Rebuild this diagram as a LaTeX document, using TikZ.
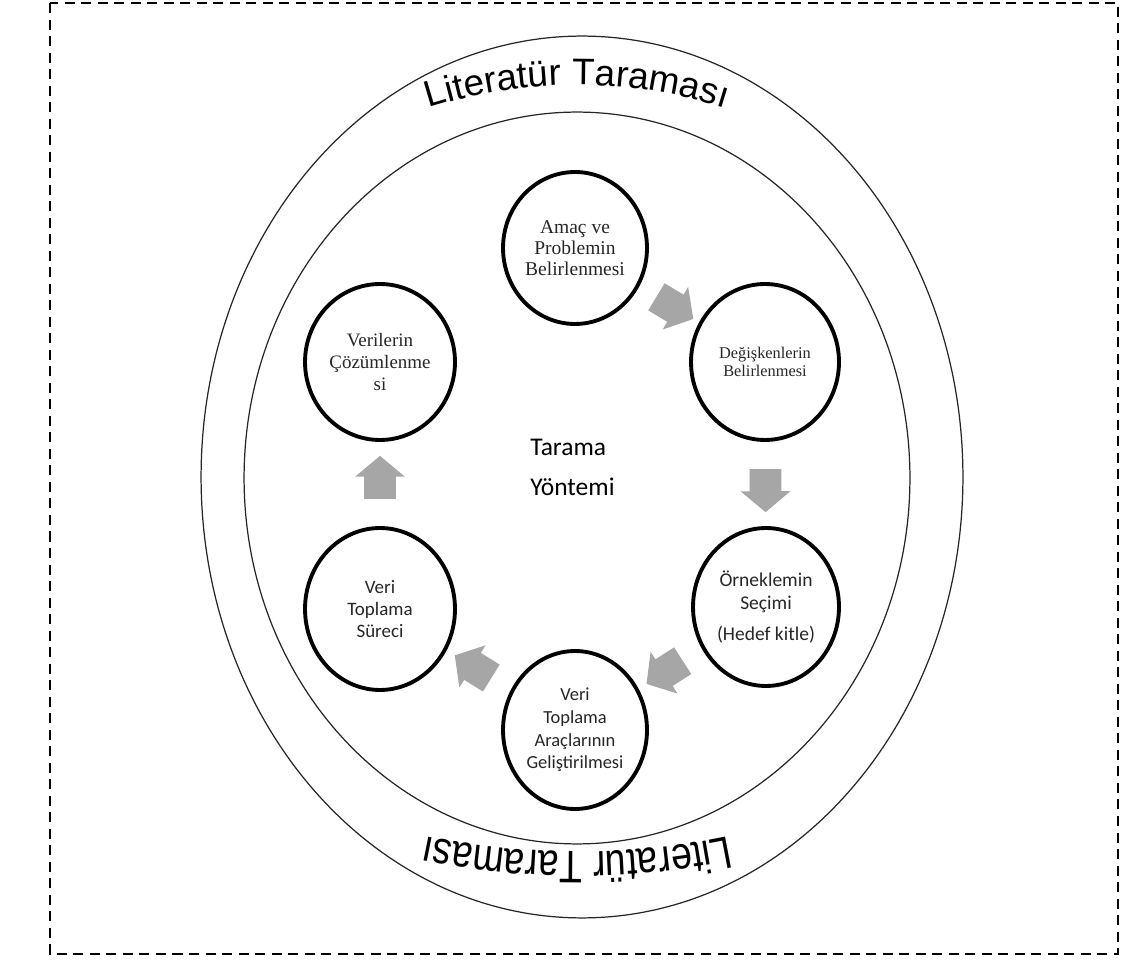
\documentclass[tikz,border=0pt]{standalone}
\usepackage{fontspec}
\setmainfont{Liberation Serif}
\newfontfamily\calfont{Carlito}
\newfontfamily\arcfont{Liberation Sans}
\newfontfamily\arcfontb[FakeStretch=0.82]{Liberation Sans}
\usetikzlibrary{shapes.geometric,shapes.arrows,decorations.text}
\definecolor{arrowgray}{HTML}{A6A6A6}
\definecolor{textgray}{HTML}{262626}
\begin{document}
\begin{tikzpicture}[x=0.02cm,y=0.02cm,
  stage/.style={draw=black, line width=2.2pt, ellipse, inner sep=0pt, align=center, text=textgray},
  ring/.style={draw=black!85, line width=0.7pt, ellipse, inner sep=0pt},
  flowarrow/.style={single arrow, fill=arrowgray, draw=none, minimum height=0.86cm,
    minimum width=0.98cm, single arrow head extend=0.18cm, single arrow tip angle=100,
    inner xsep=0pt, inner ysep=0.31cm, sloped, allow upside down},
  frame/.style={draw=black, line width=0.9pt, dash pattern=on 5.7pt off 3.7pt}]
\useasboundingbox (0,0) rectangle (1121,960);
\draw[frame] (50,957) rectangle (1118,6);

\node[ring, minimum width=15.24cm, minimum height=17.64cm] (outer) at (582,483) {};
\node[ring, minimum width=13.32cm, minimum height=14.64cm] (inner) at (577,482) {};

\path[decorate, decoration={text along path, text align=center,
  text={|\arcfont\fontsize{21}{21}\selectfont|Literatür Taraması}}]
  (577,385) ++(125:9.8cm) arc[start angle=125, end angle=55, radius=9.8cm];
\path[decorate, decoration={text along path, text align=center,
  text={|\arcfontb\fontsize{26}{26}\selectfont|Literatür Taraması}}]
  (577,858) ++(-75:15cm) arc[start angle=-75, end angle=-105, radius=15cm];

\node[stage, minimum width=2.88cm, minimum height=3.04cm, font=\fontsize{11.1}{12}\selectfont] (amac) at (575,712)
  {Amaç ve\\Problemin\\Belirlenmesi};
\node[stage, minimum width=2.96cm, minimum height=3.12cm, font=\fontsize{9.3}{10.2}\selectfont] (degis) at (765,598)
  {Değişkenlerin\\Belirlenmesi};
\node[stage, minimum width=2.92cm, minimum height=3.16cm, font=\calfont\fontsize{11.1}{13}\selectfont] (ornek) at (766,353)
  {Örneklemin\\Seçimi\\[4.6pt](Hedef kitle)};
\node[stage, minimum width=2.88cm, minimum height=3.16cm, font=\calfont\fontsize{10.5}{12.9}\selectfont] (arac) at (575,230)
  {Veri\\Toplama\\Araçlarının\\Geliştirilmesi};
\node[stage, minimum width=3.00cm, minimum height=3.24cm, font=\calfont\fontsize{10.8}{12.5}\selectfont] (surec) at (380,351)
  {Veri\\Toplama\\Süreci};
\node[stage, minimum width=3.00cm, minimum height=3.12cm, font=\fontsize{10.8}{12.3}\selectfont] (veri) at (380,598)
  {Verilerin\\Çözümlenme\\si};

\node[align=left, anchor=west, inner sep=0pt, text=black, font=\calfont\fontsize{14.5}{22.8}\selectfont] (yontem) at (530,493)
  {Tarama\\Yöntemi};

\path (amac) -- node[flowarrow] (a1) {} (degis);
\path (degis) -- node[flowarrow] (a2) {} (ornek);
\path (ornek) -- node[flowarrow] (a3) {} (arac);
\path (arac) -- node[flowarrow] (a4) {} (surec);
\path (surec) -- node[flowarrow] (a5) {} (veri);
\end{tikzpicture}
\end{document}
